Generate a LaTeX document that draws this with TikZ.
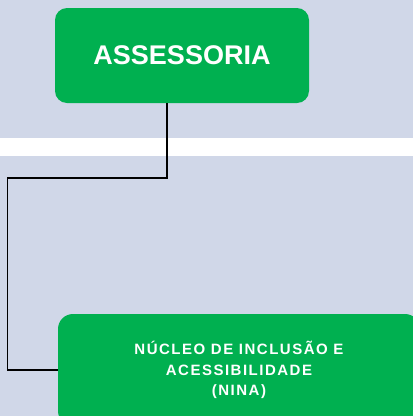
\documentclass[tikz,border=0pt]{standalone}
\usepackage{fontspec}
\setmainfont{Liberation Sans}
\newfontfamily\ninafont[LetterSpace=10]{Liberation Sans}
\definecolor{boxgreen}{HTML}{00B050}
\definecolor{bandblue}{HTML}{D0D7E8}
\tikzset{
  orgbox/.style={fill=boxgreen, text=white, rounded corners=12pt, align=center, inner sep=0pt},
  link/.style={draw=black, line width=1.8pt}
}
\begin{document}
\begin{tikzpicture}[x=1pt,y=-1pt]
\clip (0,0) rectangle (413,416);
\fill[bandblue] (0,0) rectangle (413,416);
\fill[white] (0,138) rectangle (413,156);
\node (assessoria) at (182,55.5) [orgbox, minimum width=254pt, minimum height=95pt, font=\fontsize{27}{30}\selectfont\bfseries]{ASSESSORIA};
\node (nina) at (239,370) [orgbox, rounded corners=15pt, minimum width=362pt, minimum height=112pt, font=\ninafont\fontsize{15}{20.5}\selectfont\bfseries]{NÚCLEO DE INCLUSÃO E\\ACESSIBILIDADE\\(NINA)};
\coordinate (drop) at ([xshift=-15pt]assessoria.south);
\coordinate (bend) at (7.5,178);
\draw[link] (drop) |- (bend) |- (nina.west);
\end{tikzpicture}
\end{document}
